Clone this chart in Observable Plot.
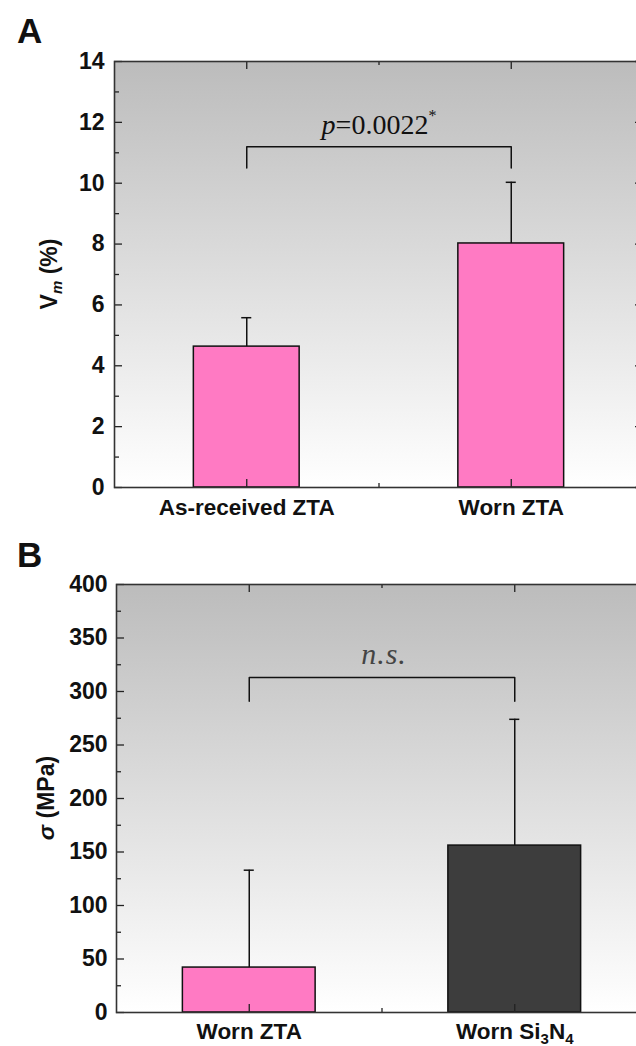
<!DOCTYPE html>
<html><head><meta charset="utf-8">
<script src="https://cdn.jsdelivr.net/npm/d3@7"></script>
<script src="https://cdn.jsdelivr.net/npm/@observablehq/plot@0.6"></script>
<style>
html,body{margin:0;padding:0;background:#fff;overflow:hidden;width:636px;height:1046px}
#wrap{width:660px}
svg{display:block}
</style></head><body><div id="wrap"></div>
<script>
// ---------- Panel A data ----------
const catsA = ["As-received ZTA", "Worn ZTA"];
const posA = [1, 2];
const valuesA = [4.63, 8.02];
const errTopA = [5.58, 10.03];
const colorsA = ["#ff7ac3", "#ff7ac3"];
const bracketXA = [1, 1, 2, 2];
const bracketYA = [10.5, 11.2, 11.2, 10.5];
const pLabelA = "p=0.0022*";
const yTicksA = [0, 2, 4, 6, 8, 10, 12, 14];
const yMinorA = [1, 3, 5, 7, 9, 11, 13];

// ---------- Panel B data ----------
const catsB = ["Worn ZTA", "Worn Si3N4"];
const posB = [1, 2];
const valuesB = [42, 156];
const errTopB = [133, 274];
const colorsB = ["#ff7ac3", "#3d3d3d"];
const bracketXB = [1, 1, 2, 2];
const bracketYB = [291, 313, 313, 291];
const pLabelB = "n.s.";
const yTicksB = [0, 50, 100, 150, 200, 250, 300, 350, 400];
const yMinorB = [25, 75, 125, 175, 225, 275, 325, 375];

const xMid = [1.5];
const FONT = "'Liberation Sans', Arial, sans-serif";

function panel(cfg) {
  const W = 660;
  const innerW = W - cfg.ml - cfg.mr;
  const innerH = cfg.h - cfg.mt - cfg.mb;
  const data = cfg.cats.map((c, i) => ({cat: c, pos: cfg.pos[i], v: cfg.values[i], top: cfg.errTop[i], color: cfg.colors[i]}));
  const bracket = cfg.bx.map((x, i) => ({x, y: cfg.by[i]}));
  const lineStroke = "#111";
  const svg = Plot.plot({
    width: W, height: cfg.h,
    marginLeft: cfg.ml, marginRight: cfg.mr, marginTop: cfg.mt, marginBottom: cfg.mb,
    x: {domain: [0.5, 2.5]},
    y: {domain: cfg.ydom},
    color: {type: "identity"},
    style: {fontFamily: FONT, fontSize: "22px", fontWeight: "bold", color: "#111", background: "transparent", overflow: "visible"},
    marks: [
      Plot.frame({fill: `url(#${cfg.id})`, stroke: "none"}),
      Plot.rectY(data, {x1: d => d.pos - cfg.hw, x2: d => d.pos + cfg.hw, y1: 0, y2: "v", fill: "color", stroke: lineStroke, strokeWidth: 1.5}),
      Plot.ruleX(data, {x: "pos", y1: "v", y2: "top", stroke: lineStroke, strokeWidth: 1.5}),
      Plot.ruleY(data, {y: "top", x1: d => d.pos - 0.019, x2: d => d.pos + 0.019, stroke: lineStroke, strokeWidth: 1.5}),
      Plot.line(bracket, {x: "x", y: "y", stroke: lineStroke, strokeWidth: 1.5}),
      Plot.text([cfg.label], {x: xMid[0], y: cfg.by[1], text: d => d, dy: cfg.labelDy, dx: cfg.labelDx,
        fontFamily: "'Liberation Serif', 'Times New Roman', serif", fontSize: cfg.labelSize, fontWeight: "normal",
        fontStyle: cfg.labelItalic ? "italic" : "normal", fill: cfg.labelColor}),
      // inward ticks, left & right
      Plot.tickY(cfg.yTicks, {y: d => d, insetRight: innerW - 8, stroke: "#222", strokeWidth: 1.3}),
      Plot.tickY(cfg.yMinor, {y: d => d, insetRight: innerW - 5, stroke: "#222", strokeWidth: 1.3}),
      Plot.tickY(cfg.yTicks, {y: d => d, insetLeft: innerW - 8, stroke: "#222", strokeWidth: 1.3}),
      Plot.tickY(cfg.yMinor, {y: d => d, insetLeft: innerW - 5, stroke: "#222", strokeWidth: 1.3}),
      // inward ticks, top & bottom
      Plot.tickX(cfg.pos, {x: d => d, insetBottom: innerH - 8, stroke: "#222", strokeWidth: 1.3}),
      Plot.tickX(xMid, {x: d => d, insetBottom: innerH - 4, stroke: "#222", strokeWidth: 1.3}),
      Plot.tickX(cfg.pos, {x: d => d, insetTop: innerH - 8, stroke: "#222", strokeWidth: 1.3}),
      Plot.tickX(xMid, {x: d => d, insetTop: innerH - 4, stroke: "#222", strokeWidth: 1.3}),
      Plot.frame({stroke: "#333", strokeWidth: 1.6}),
      Plot.axisY(cfg.yTicks, {tickSize: 0, tickPadding: cfg.ypad, label: null, fontSize: 23, fontWeight: "bold", fill: "#111"}),
      Plot.axisX(cfg.pos, {tickSize: 0, tickPadding: cfg.xpad, label: null, tickFormat: d => cfg.cats[d - 1], fontSize: 22.5, fontWeight: "bold", fill: "#111"})
    ]
  });
  const s = d3.select(svg);
  const defs = s.insert("defs", ":first-child");
  const g = defs.append("linearGradient").attr("id", cfg.id).attr("x1", 0).attr("y1", 0).attr("x2", 0).attr("y2", 1);
  g.append("stop").attr("offset", "0%").attr("stop-color", "#bcbcbc");
  g.append("stop").attr("offset", "100%").attr("stop-color", "#ffffff");

  // Panel letter
  s.append("text").attr("x", 17).attr("y", cfg.letterY).attr("text-anchor", "start").attr("font-family", FONT).attr("font-size", 35)
    .attr("font-weight", "bold").attr("fill", "#111").text(cfg.letter);

  // y-axis title
  const cy = cfg.mt + innerH / 2;
  const yl = s.append("text").attr("transform", `translate(${cfg.ylx},${cy}) rotate(-90)`)
    .attr("text-anchor", "middle").attr("font-family", FONT).attr("font-size", 23).attr("font-weight", "bold").attr("fill", "#111");
  cfg.ylabel(yl);
  return svg;
}

const wrap = document.getElementById("wrap");

const svgA = panel({
  id: "gradA", h: 530, ml: 114, mr: 17, mt: 61, mb: 43, hw: 0.2, xpad: 12, ypad: 10,
  cats: catsA, pos: posA, values: valuesA, errTop: errTopA, colors: colorsA,
  bx: bracketXA, by: bracketYA, label: pLabelA, labelDy: -22, labelDx: 0, labelSize: 28, labelItalic: false, labelColor: "#111",
  ydom: [0, 14], yTicks: yTicksA, yMinor: yMinorA, letter: "A", letterY: 43, ylx: 57,
  ylabel: t => {
    t.append("tspan").text("V");
    t.append("tspan").attr("font-style", "italic").attr("font-size", 15).attr("dy", 5).text("m");
    t.append("tspan").attr("dy", -5).text(" (%)");
  }
});
wrap.appendChild(svgA);

const svgB = panel({
  id: "gradB", h: 516, ml: 116, mr: 13, mt: 54, mb: 34, hw: 0.25, xpad: 11, ypad: 9,
  cats: catsB, pos: posB, values: valuesB, errTop: errTopB, colors: colorsB,
  bx: bracketXB, by: bracketYB, label: pLabelB, labelDy: -23, labelDx: 2, labelSize: 30, labelItalic: true, labelColor: "#444",
  ydom: [0, 400], yTicks: yTicksB, yMinor: yMinorB, letter: "B", letterY: 37, ylx: 54,
  ylabel: t => {
    t.append("tspan").attr("font-style", "italic").text("σ");
    t.append("tspan").text(" (MPa)");
  }
});
wrap.appendChild(svgB);

// p-value label: italic p and superscript asterisk
d3.select(svgA).selectAll("text").filter(function () { return this.textContent === pLabelA; }).each(function () {
  const t = d3.select(this);
  t.text("");
  t.append("tspan").attr("font-style", "italic").text("p");
  t.append("tspan").text("=0.0022");
  t.append("tspan").attr("font-size", 16).attr("dy", -13).text("*");
});
d3.select(svgB).selectAll("text").filter(function () { return this.textContent === pLabelB; })
  .attr("letter-spacing", 1);

// Si3N4 subscripts
d3.select(svgB).selectAll("text").filter(function () { return this.textContent === "Worn Si3N4"; }).each(function () {
  const t = d3.select(this);
  t.text("");
  t.append("tspan").text("Worn Si");
  t.append("tspan").attr("font-size", 15).attr("dy", 5).text("3");
  t.append("tspan").attr("dy", -5).text("N");
  t.append("tspan").attr("font-size", 15).attr("dy", 5).text("4");
});
</script>
</body></html>
